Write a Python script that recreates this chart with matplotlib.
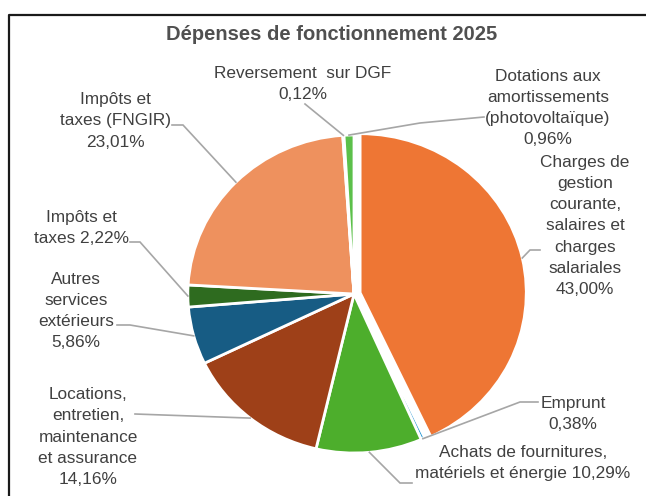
import numpy as np
import matplotlib.pyplot as plt

plt.rcParams['font.family'] = ['Liberation Sans', 'DejaVu Sans']

values = [43.00, 0.38, 10.29, 14.16, 5.86, 2.22, 23.01, 0.12, 0.96]
names = ["Charges de\ngestion\ncourante,\nsalaires et\ncharges\nsalariales\n",
         "Emprunt\n",
         "Achats de fournitures,\nmatériels et énergie ",
         "Locations,\nentretien,\nmaintenance\net assurance\n",
         "Autres\nservices\nextérieurs\n",
         "Impôts et\ntaxes ",
         "Impôts et\ntaxes (FNGIR)\n",
         "Reversement  sur DGF\n",
         "Dotations aux\namortissements\n(photovoltaïque)\n"]
colors = ["#EE7634", "#2E9BD6", "#4DAE2C", "#9E4018", "#175C84",
          "#2E6B1F", "#EE915E", "#64B8E8", "#5CC04A"]

# label centres and leader elbows, in pixels of the 646x496 picture
label_pos = [(585, 226), (573, 414), (523, 463), (88, 437), (76, 311),
             (81, 228), (115, 121), (303, 84), (548, 108)]
leaders = [[(530, 250), (540, 250)],
           [(520, 402), (538, 402)],
           [(400, 483), (412, 483)],
           [(135, 414)],
           [(130, 325), (117, 325)],
           [(140, 242), (130, 242)],
           [(183, 125), (172, 125)],
           [(305, 104)],
           [(420, 123), (484, 117)]]

W, H = 646, 496
SX = 1.045          # slight horizontal stretch of the original picture
CX, CY, R = 354, 294, 159


def P(x, y):
    return x / SX, H - y


fig = plt.figure(figsize=(6.46, 4.96), dpi=100)
ax = fig.add_axes([0, 0, 1, 1])

explode = [6, 0, 0, 0, 0, 0, 0, 0, 0]
wedges, _ = ax.pie(values, colors=colors, startangle=90, counterclock=False,
                   radius=R, center=P(CX, CY), explode=explode,
                   wedgeprops=dict(edgecolor='white', linewidth=2))
ax.set_xlim(0, W / SX)
ax.set_ylim(0, H)
ax.set_aspect('auto')
ax.axis('off')

txt = '#404040'
for w, name, v, (lx, ly), elb in zip(wedges, names, values, label_pos, leaders):
    th = np.deg2rad((w.theta1 + w.theta2) / 2)
    cx, cy = w.center
    ax_pt = (cx + R * np.cos(th), cy + R * np.sin(th))
    pct = f"{v:.2f}".replace('.', ',') + '%'
    ax.text(*P(lx, ly), name + pct, ha='center', va='center', fontsize=12.4,
            color=txt, linespacing=1.52)
    pts = [ax_pt] + [P(*e) for e in elb]
    ax.plot([p[0] for p in pts], [p[1] for p in pts], color='#A6A6A6',
            lw=1.2, solid_joinstyle='miter')

ax.text(*P(332, 35), "Dépenses de fonctionnement 2025", ha='center',
        va='center', fontsize=14.5, fontweight='bold', color='#505050')

# frame of the original chart area, cut at right and bottom
ax.plot([9 / SX, 9 / SX, 700 / SX], [-10, H - 15, H - 15], color='#1a1a1a',
        lw=1.6, clip_on=False)

fig.savefig('out.png', dpi=100)
